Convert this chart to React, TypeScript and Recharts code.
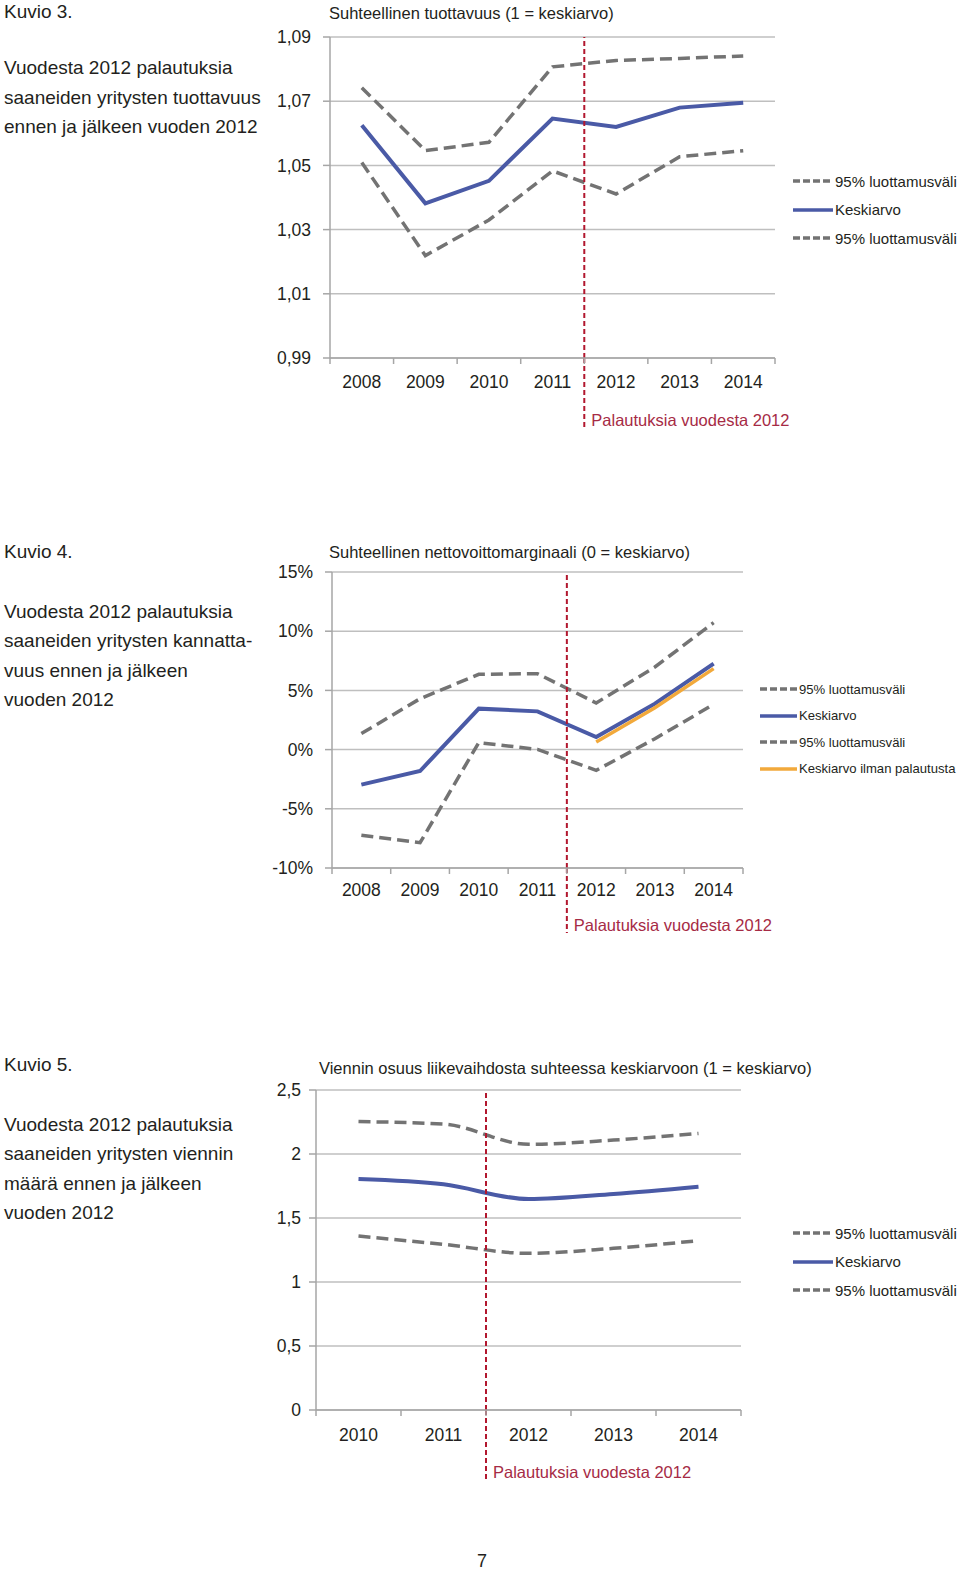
import React from 'react';
import { LineChart, Line, XAxis, YAxis, CartesianGrid, ReferenceLine } from 'recharts';

const FONT = "'Liberation Sans', Arial, sans-serif";
const TEXT = '#231f20';
const GRID = '#bfbfbf';
const AXIS = '#a6a6a6';
const BLUE = '#4a5aa6';
const GREY = '#737373';
const ORANGE = '#f2a93b';
const RED = '#b2172e';
const RED_TEXT = '#a62b45';

// Kuvio 3 - tuottavuus
const years3 = ['2008', '2009', '2010', '2011', '2012', '2013', '2014'];
const prodUpper = [1.0742, 1.0546, 1.0572, 1.0807, 1.0827, 1.0833, 1.0841];
const prodMean = [1.0625, 1.0382, 1.0452, 1.0646, 1.062, 1.068, 1.0695];
const prodLower = [1.0509, 1.0219, 1.033, 1.0483, 1.0411, 1.0527, 1.0546];
const prodTicks = [0.99, 1.01, 1.03, 1.05, 1.07, 1.09];

// Kuvio 4 - nettovoittomarginaali (%)
const years4 = ['2008', '2009', '2010', '2011', '2012', '2013', '2014'];
const marginUpper = [1.35, 4.3, 6.36, 6.41, 3.94, 6.98, 10.72];
const marginMean = [-2.96, -1.81, 3.46, 3.23, 1.06, 3.88, 7.26];
const marginLower = [-7.24, -7.86, 0.59, 0.02, -1.75, 0.92, 3.82];
const marginNoReturn = [null, null, null, null, 0.64, 3.54, 6.84];
const marginTicks = [-10, -5, 0, 5, 10, 15];

// Kuvio 5 - viennin osuus
const years5 = ['2010', '2011', '2012', '2013', '2014'];
const exportUpper = [2.253, 2.234, 2.076, 2.109, 2.161];
const exportMean = [1.805, 1.763, 1.648, 1.688, 1.745];
const exportLower = [1.359, 1.294, 1.224, 1.263, 1.323];
const exportTicks = [0, 0.5, 1, 1.5, 2, 2.5];

const CI = '95% luottamusväli';
const splitYear = '2012';
const splitLabel = 'Palautuksia vuodesta 2012';

type Series = { key: string; name: string; values: (number | null)[]; color: string; dashed?: boolean; width?: number };

function buildRows(years: string[], series: Series[]) {
  return years.map((y, i) => {
    const row: any = { pos: i + 1, year: y };
    series.forEach((s) => { row[s.key] = s.values[i]; });
    return row;
  });
}

const LegendBox = ({ series, sample, rowH, left, top, size }: { series: Series[]; sample: number; rowH: number; left: number; top: number; size: number }) => (
  <div style={{ position: 'absolute', left, top, fontFamily: FONT, fontSize: size, color: TEXT }}>
    {series.map((s, i) => (
      <div key={i} style={{ display: 'flex', alignItems: 'center', height: rowH, whiteSpace: 'nowrap' }}>
        <svg width={sample + 2} height={6} style={{ flex: 'none' }}>
          <line x1={0} x2={sample} y1={3} y2={3} stroke={s.color} strokeWidth={3.5}
            strokeDasharray={s.dashed ? '7 3' : undefined} />
        </svg>
        <span>{s.name}</span>
      </div>
    ))}
  </div>
);

type PanelProps = {
  left: number; top: number; width: number; height: number;
  margin: { top: number; right: number; bottom: number; left: number };
  yWidth: number; yMargin: number;
  years: string[]; series: Series[];
  yDomain: [number, number]; yTicks: number[]; yFormat: (v: number) => string;
  labelGap: number; splitGap: number;
  legendLeft: number; legendTop: number; legendRowH: number; legendSample: number; legendSize: number;
  curve: 'linear' | 'monotone';
  title: string; titleLeft: number; titleTop: number;
};

function Panel(p: PanelProps) {
  const rows = buildRows(p.years, p.series);
  const n = p.years.length;
  const xTicks: number[] = [];
  for (let i = 0; i <= n; i++) {
    xTicks.push(i + 0.5);
    if (i < n) xTicks.push(i + 1);
  }
  const splitPos = p.years.indexOf(splitYear) + 0.5;

  const renderTick = (props: any) => {
    const { x, y, payload } = props;
    const v = payload.value;
    if (Number.isInteger(v)) {
      return (
        <text x={x} y={y + p.labelGap} textAnchor="middle" dominantBaseline="central"
          fill={TEXT} fontSize={17.5} fontFamily={FONT}>{p.years[v - 1]}</text>
      );
    }
    return <line x1={x} x2={x} y1={y} y2={y + 6} stroke={AXIS} strokeWidth={1.5} />;
  };

  const renderSplit = (props: any) => {
    const vb = props.viewBox || {};
    const bx = vb.x ?? 0;
    const by = (vb.y ?? 0) + (vb.height ?? 0);
    return (
      <g>
        <line x1={bx} x2={bx} y1={by} y2={by + p.splitGap + 8} stroke={RED} strokeWidth={2} strokeDasharray="5 3" />
        <text x={bx + 7} y={by + p.splitGap} dominantBaseline="central" fill={RED_TEXT}
          fontSize={16.5} fontFamily={FONT}>{splitLabel}</text>
      </g>
    );
  };

  return (
    <div style={{ position: 'absolute', left: p.left, top: p.top, width: p.width, height: p.height }}>
      <div style={{ position: 'absolute', left: p.titleLeft, top: p.titleTop, fontFamily: FONT, fontSize: 16.5, color: TEXT, whiteSpace: 'nowrap', lineHeight: '24px' }}>
        {p.title}
      </div>
      <LineChart width={p.width} height={p.height} data={rows} margin={p.margin} style={{ overflow: 'visible' }}>
        <CartesianGrid vertical={false} stroke={GRID} strokeWidth={1.5} />
        <XAxis dataKey="pos" type="number" domain={[0.5, n + 0.5]} ticks={xTicks} interval={0}
          height={30} tickSize={0} tickMargin={0} tickLine={false}
          axisLine={{ stroke: AXIS, strokeWidth: 1.5 }} tick={renderTick} />
        <YAxis type="number" domain={p.yDomain} ticks={p.yTicks} interval={0} width={p.yWidth}
          tickSize={7} tickMargin={p.yMargin} tickFormatter={p.yFormat}
          axisLine={{ stroke: AXIS, strokeWidth: 1.5 }} tickLine={{ stroke: AXIS, strokeWidth: 1.5 }}
          tick={{ fill: TEXT, fontSize: 17.5, fontFamily: FONT }} />
        {p.series.map((s) => (
          <Line key={s.key} dataKey={s.key} name={s.name} type={p.curve} stroke={s.color}
            strokeWidth={s.width ?? 3.5} strokeDasharray={s.dashed ? '12 6' : undefined}
            dot={false} activeDot={false} isAnimationActive={false} connectNulls={false} />
        ))}
        <ReferenceLine x={splitPos} stroke={RED} strokeWidth={2} strokeDasharray="5 3"
          ifOverflow="visible" label={renderSplit} />
      </LineChart>
      <LegendBox series={p.series} sample={p.legendSample} rowH={p.legendRowH}
        left={p.legendLeft} top={p.legendTop} size={p.legendSize} />
    </div>
  );
}

const SideText = ({ top, gap, heading, lines }: { top: number; gap: number; heading: string; lines: string[] }) => (
  <div style={{ position: 'absolute', left: 4, top, fontFamily: FONT, fontSize: 19, color: TEXT, lineHeight: '29.5px', whiteSpace: 'nowrap' }}>
    <div>{heading}</div>
    <div style={{ marginTop: gap }}>
      {lines.map((l, i) => <div key={i}>{l}</div>)}
    </div>
  </div>
);

const comma = (d: number) => (v: number) => v.toFixed(d).replace('.', ',');
const exportFmt = (v: number) => (Number.isInteger(v) ? String(v) : v.toFixed(1).replace('.', ','));

export default function App() {
  const s3: Series[] = [
    { key: 'upper', name: CI, values: prodUpper, color: GREY, dashed: true },
    { key: 'mean', name: 'Keskiarvo', values: prodMean, color: BLUE, width: 4 },
    { key: 'lower', name: CI, values: prodLower, color: GREY, dashed: true },
  ];
  const s4: Series[] = [
    { key: 'upper', name: CI, values: marginUpper, color: GREY, dashed: true },
    { key: 'mean', name: 'Keskiarvo', values: marginMean, color: BLUE, width: 4 },
    { key: 'lower', name: CI, values: marginLower, color: GREY, dashed: true },
    { key: 'noret', name: 'Keskiarvo ilman palautusta', values: marginNoReturn, color: ORANGE },
  ];
  const s5: Series[] = [
    { key: 'upper', name: CI, values: exportUpper, color: GREY, dashed: true },
    { key: 'mean', name: 'Keskiarvo', values: exportMean, color: BLUE, width: 4 },
    { key: 'lower', name: CI, values: exportLower, color: GREY, dashed: true },
  ];

  return (
    <div style={{ position: 'absolute', left: 0, top: 0, width: 960, height: 1574, background: '#fff', overflow: 'hidden' }}>
      <SideText top={-3} gap={26.5} heading="Kuvio 3."
        lines={['Vuodesta 2012 palautuksia', 'saaneiden yritysten tuottavuus', 'ennen ja jälkeen vuoden 2012']} />
      <SideText top={537} gap={30} heading="Kuvio 4."
        lines={['Vuodesta 2012 palautuksia', 'saaneiden yritysten kannatta-', 'vuus ennen ja jälkeen', 'vuoden 2012']} />
      <SideText top={1050} gap={30} heading="Kuvio 5."
        lines={['Vuodesta 2012 palautuksia', 'saaneiden yritysten viennin', 'määrä ennen ja jälkeen', 'vuoden 2012']} />

      <Panel left={270} top={0} width={690} height={440}
        margin={{ top: 37, right: 185, bottom: 52, left: 0 }} yWidth={60} yMargin={12}
        years={years3} series={s3} yDomain={[0.99, 1.09]} yTicks={prodTicks} yFormat={comma(2)}
        labelGap={24} splitGap={62}
        legendLeft={523} legendTop={167} legendRowH={28.5} legendSample={40} legendSize={15}
        curve="linear" title="Suhteellinen tuottavuus (1 = keskiarvo)" titleLeft={59} titleTop={1} />

      <Panel left={270} top={530} width={690} height={420}
        margin={{ top: 42, right: 217, bottom: 52, left: 0 }} yWidth={62} yMargin={12}
        years={years4} series={s4} yDomain={[-10, 15]} yTicks={marginTicks} yFormat={(v) => `${v}%`}
        labelGap={22} splitGap={57}
        legendLeft={490} legendTop={146} legendRowH={26.5} legendSample={37} legendSize={13.1}
        curve="linear" title="Suhteellinen nettovoittomarginaali (0 = keskiarvo)" titleLeft={59} titleTop={10} />

      <Panel left={260} top={1040} width={700} height={450}
        margin={{ top: 50, right: 219, bottom: 50, left: 0 }} yWidth={56} yMargin={8}
        years={years5} series={s5} yDomain={[0, 2.5]} yTicks={exportTicks} yFormat={exportFmt}
        labelGap={25} splitGap={62}
        legendLeft={533} legendTop={179} legendRowH={28.5} legendSample={40} legendSize={15}
        curve="monotone" title="Viennin osuus liikevaihdosta suhteessa keskiarvoon (1 = keskiarvo)" titleLeft={59} titleTop={16} />

      <div style={{ position: 'absolute', left: 477, top: 1551, fontFamily: FONT, fontSize: 18, lineHeight: '20px', color: TEXT }}>7</div>
    </div>
  );
}
